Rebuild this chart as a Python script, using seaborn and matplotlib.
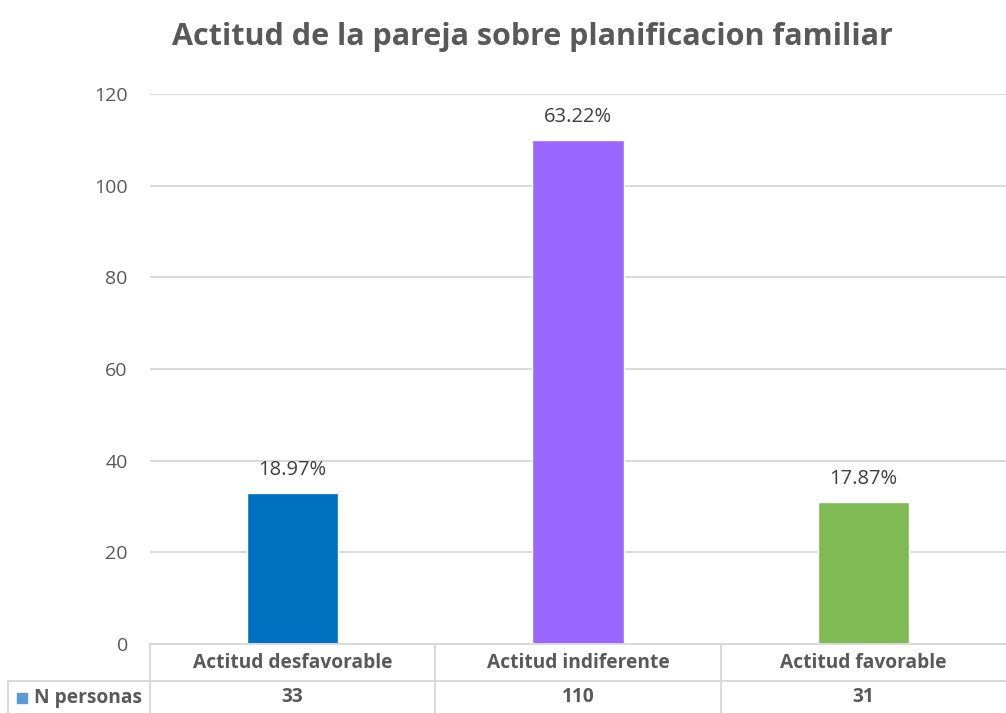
import numpy as np
import pandas as pd
import matplotlib
matplotlib.use("Agg")
import matplotlib.pyplot as plt
from matplotlib.lines import Line2D
from matplotlib.patches import Rectangle
import seaborn as sns

# data
categorias = ["Actitud desfavorable", "Actitud indiferente", "Actitud favorable"]
n_personas = [33, 110, 31]
porcentajes = ["18.97%", "63.22%", "17.87%"]
colores = ["#0070C0", "#9966FF", "#7FBA55"]
serie = "N personas"
yticks = [0, 20, 40, 60, 80, 100, 120]

sns.set_theme(style="white")
plt.rcParams['font.family'] = ['Open Sans', 'DejaVu Sans']

gris = "#595959"
linea = "#D9D9D9"

df = pd.DataFrame({"cat": categorias, "n": n_personas})

fig = plt.figure(figsize=(10.06, 7.13), dpi=100)
W, H = 1006, 713
ax = fig.add_axes([150 / W, 1 - 644 / H, 856 / W, 550 / H])

sns.barplot(data=df, x="cat", y="n", hue="cat", palette=colores,
            width=0.32, legend=False, ax=ax, saturation=1)

ax.set_ylim(0, 120)
ax.set_xlim(-0.5, 2.5)
ax.set_yticks(yticks)
ax.set_yticklabels([str(t) for t in yticks], color=gris, fontsize=14)
ax.tick_params(axis="y", length=0, pad=16)
ax.set_xticks([])
ax.set_xlabel("")
ax.set_ylabel("")
for s in ax.spines.values():
    s.set_visible(False)
ax.yaxis.grid(True, color=linea, linewidth=1.4)
ax.set_axisbelow(True)

# data labels
for i, (v, p) in enumerate(zip(n_personas, porcentajes)):
    ax.annotate(p, (i, v), xytext=(0, 23), textcoords="offset pixels",
                ha="center", va="center", fontsize=14.5, color="#404040")

# title
fig.text(532 / W, 1 - 37 / H, "Actitud de la pareja sobre planificacion familiar",
         ha="center", va="center", fontsize=22, fontweight="bold", color=gris)

# data table below the axis
r1 = -37 / 550
r2 = -70 / 550
xl = -142 / 856
tr = ax.transAxes
lines = [
    ([0, 1], [0, 0]),
    ([xl, 1], [r1, r1]),
    ([xl, xl], [r1, r2]),
    ([0, 0], [0, r2]),
    ([1 / 3, 1 / 3], [0, r2]),
    ([2 / 3, 2 / 3], [0, r2]),
]
for xs, ys in lines:
    ax.add_line(Line2D(xs, ys, transform=tr, color=linea, lw=1.4, clip_on=False))

for i, (c, v) in enumerate(zip(categorias, n_personas)):
    xc = (i + 0.5) / 3
    ax.text(xc, r1 / 2, c, transform=tr, ha="center", va="center",
            fontsize=13.8, fontweight="bold", color=gris)
    ax.text(xc, (r1 + r2) / 2, str(v), transform=tr, ha="center", va="center",
            fontsize=13.8, fontweight="bold", color=gris)

# legend key + series name
ax.add_patch(Rectangle((-133 / 856, (r1 + r2) / 2 - 5 / 550), 10 / 856, 10 / 550,
                       transform=tr, color="#5B9BD5", clip_on=False))
ax.text(-116 / 856, (r1 + r2) / 2, serie, transform=tr, ha="left", va="center",
        fontsize=13.8, fontweight="bold", color=gris)

fig.savefig("out.png", dpi=100, facecolor="white")
